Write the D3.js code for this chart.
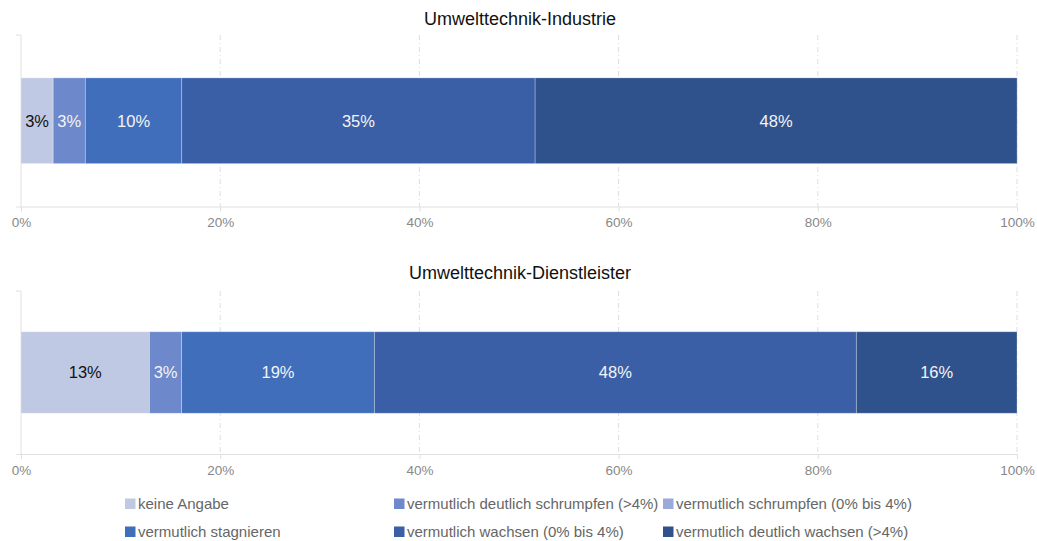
<!DOCTYPE html>
<html><head><meta charset="utf-8">
<script src="https://cdn.jsdelivr.net/npm/d3@7"></script>
<style>body{margin:0;background:#fff;font-family:"Liberation Sans",Arial,sans-serif}</style>
</head><body><svg id="c" width="1037" height="541"></svg>
<script>
const panels = ["Umwelttechnik-Industrie", "Umwelttechnik-Dienstleister"];
const series = ["keine Angabe", "vermutlich deutlich schrumpfen (>4%)", "vermutlich schrumpfen (0% bis 4%)", "vermutlich stagnieren", "vermutlich wachsen (0% bis 4%)", "vermutlich deutlich wachsen (>4%)"];
const colors = ["#c0c9e4", "#6d89cb", "#9aaadb", "#406ebb", "#3a5fa6", "#2f528c"];
const industrie = [3.23, 3.23, 0, 9.68, 35.48, 48.39];
const dienstleister = [12.90, 3.23, 0, 19.35, 48.39, 16.13];
const ticks = [0, 20, 40, 60, 80, 100];
const values = [industrie, dienstleister];

const svg = d3.select("#c");
const x = d3.scaleLinear().domain([0, 100]).range([21, 1017]);
const layouts = [{title: 25, top: 35, bottom: 206.5}, {title: 279, top: 291, bottom: 454}];

panels.forEach((name, pi) => {
  const L = layouts[pi];
  const g = svg.append("g");
  g.append("text").attr("x", 520).attr("y", L.title).attr("text-anchor", "middle")
    .attr("font-size", 18).attr("fill", "#111").text(name);
  const y = d3.scaleBand().domain([name]).range([L.top, L.bottom]).paddingInner(0).paddingOuter(0.5);
  // grid
  g.selectAll(".grid").data(ticks.slice(1)).join("line")
    .attr("x1", d => x(d)).attr("x2", d => x(d)).attr("y1", L.top).attr("y2", L.bottom)
    .attr("stroke", "#dedede").attr("stroke-dasharray", "5,3,1,3");
  // x axis
  const xa = g.append("g").attr("transform", `translate(0,${L.bottom})`)
    .call(d3.axisBottom(x).tickValues(ticks).tickFormat(d => d + "%").tickSize(5).tickPadding(6));
  xa.select(".domain").attr("stroke", "#e0e0e0").attr("d", `M16,0.5H${x(100)}`);
  xa.selectAll(".tick line").attr("stroke", "#e0e0e0");
  xa.selectAll(".tick text").attr("fill", "#888").attr("font-size", 13.5)
    .attr("font-family", "Liberation Sans, Arial, sans-serif");
  // y axis
  g.append("line").attr("x1", 21).attr("x2", 21).attr("y1", L.top).attr("y2", L.bottom).attr("stroke", "#e0e0e0");
  g.append("line").attr("x1", 16).attr("x2", 21).attr("y1", L.top).attr("y2", L.top).attr("stroke", "#e0e0e0");
  // bars
  const vals = values[pi];
  let acc = 0;
  const segs = vals.map((v, i) => { const s = {i, v, x0: acc, x1: acc + v}; acc += v; return s; });
  g.selectAll(".seg").data(segs.filter(s => s.v > 0)).join("rect")
    .attr("x", s => x(s.x0)).attr("width", s => x(s.x1) - x(s.x0))
    .attr("y", y(name)).attr("height", y.bandwidth())
    .attr("fill", s => colors[s.i]).attr("stroke", "rgba(255,255,255,0.35)").attr("stroke-width", 0.8);
  g.selectAll(".lbl").data(segs.filter(s => s.v > 0)).join("text")
    .attr("x", s => (x(s.x0) + x(s.x1)) / 2).attr("y", y(name) + y.bandwidth() / 2)
    .attr("dy", "0.36em").attr("text-anchor", "middle").attr("font-size", 16.5)
    .attr("fill", s => s.i === 0 ? "#111" : "#f4f4f4")
    .text(s => Math.round(s.v) + "%");
});

// legend
const colX = [125, 394, 663];
const rowY = [504, 532];
const lg = svg.append("g");
series.forEach((s, i) => {
  const cx = colX[i % 3], cy = rowY[Math.floor(i / 3)];
  lg.append("rect").attr("x", cx).attr("y", cy - 5.5).attr("width", 10.5).attr("height", 10.5).attr("fill", colors[i]);
  lg.append("text").attr("x", cx + 13).attr("y", cy).attr("dy", "0.36em")
    .attr("font-size", 15).attr("fill", "#666").text(s);
});
</script></body></html>
